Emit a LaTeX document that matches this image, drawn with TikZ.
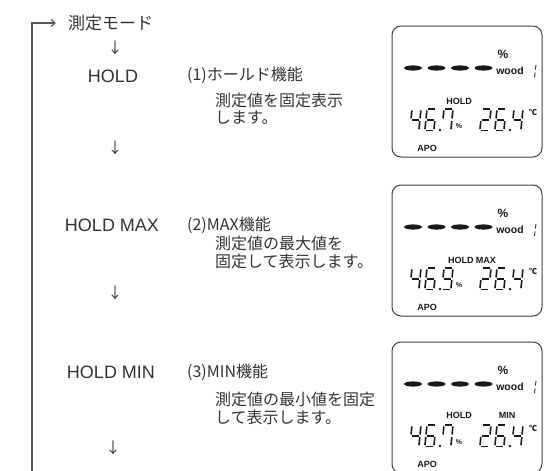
\documentclass[tikz,border=0pt]{standalone}
\usepackage{fontspec}
\setmainfont{Liberation Sans}
\newfontfamily\jp{Noto Sans CJK JP}
\usetikzlibrary{arrows.meta}

% segments of a 7-segment digit, cell 9 wide, 20 high
\def\lcda{\draw[lcdseg] (1.3,0)--(7.7,0);}
\def\lcdb{\draw[lcdseg] (9,1.3)--(9,8.8);}
\def\lcdc{\draw[lcdseg] (9,11.2)--(9,18.7);}
\def\lcdd{\draw[lcdseg] (1.3,20)--(7.7,20);}
\def\lcde{\draw[lcdseg] (0,11.2)--(0,18.7);}
\def\lcdf{\draw[lcdseg] (0,1.3)--(0,8.8);}
\def\lcdg{\draw[lcdseg] (1.3,10)--(7.7,10);}
\def\dtwo{a,b,g,e,d}
\def\dfour{f,g,b,c}
\def\dsix{a,f,g,e,d,c}
\def\dseven{f,a,b,c}
\def\dnine{a,b,c,d,f,g}

\newcommand\lcddig[2]{%
  \begin{scope}[shift={#1}, xslant=0.1, yscale=1.08]
    \foreach \s in #2 {\csname lcd\s\endcsname}
  \end{scope}}

% one display panel: #1 name, #2 top, #3 third digit, #4 status labels
\newcommand\lcdpanel[4]{%
  \begin{scope}[shift={(392,#2)}]
    \draw[panel] (0,0) rectangle (150,131);
    \foreach \i in {0,...,3}
      \fill[lcdink] (21+23.5*\i,42) ellipse (9 and 2.6);
    \node[lcdlab, font=\bfseries\fontsize{12}{12}\selectfont] (#1pct) at (111,28) {\%};
    \node[lcdlab, font=\bfseries\fontsize{10.5}{11}\selectfont] (#1wood) at (118,45) {wood};
    \draw[black!85, line width=0.9pt] (144,39)--(143.4,43.5) (143.1,46.5)--(142.5,51);
    \lcddig{(20,83)}{\dfour}
    \lcddig{(35,83)}{\dsix}
    \fill[lcdink] (48,104) circle (1.3);
    \lcddig{(52,83)}{#3}
    \node[lcdlab, font=\bfseries\fontsize{7}{7}\selectfont] (#1unit) at (67,100) {\%};
    \lcddig{(90,83)}{\dtwo}
    \lcddig{(105,83)}{\dsix}
    \fill[lcdink] (118,104) circle (1.3);
    \lcddig{(122,83)}{\dfour}
    \node[lcdlab, font=\jp\bfseries\fontsize{8}{8}\selectfont] (#1deg) at (141,86) {℃};
    \node[lcdlab] (#1apo) at (35,122) {APO};
    #4
  \end{scope}}

\tikzset{
  txt/.style={text=black!80, inner sep=1pt},
  modetxt/.style={txt, font=\fontsize{18}{20}\selectfont},
  jptxt/.style={txt, font=\jp\fontsize{16}{18}\selectfont, anchor=west},
  darr/.style={txt, font=\jp\fontsize{15}{17}\selectfont},
  panel/.style={draw=black!75, line width=1pt, rounded corners=9pt},
  lcdink/.style={black!90},
  lcdseg/.style={draw=black!90, line width=1.6pt},
  lcdlab/.style={text=black!90, inner sep=0pt, font=\bfseries\fontsize{9}{9}\selectfont},
  loopline/.style={draw=black!65, line width=1.2pt, -{Straight Barb[length=4pt,width=7pt]}},
}

\begin{document}
\begin{tikzpicture}[x=1pt, y=-1pt]
\clip (0,0) rectangle (544,471);

% mode loop
\node[jptxt, font=\jp\fontsize{17}{19}\selectfont] (mode) at (67,23) {測定モード};
\node[darr] (a0) at (115,48) {↓};
\coordinate (bot) at (32,475);
\draw[loopline] (bot) |- ([xshift=-11pt]mode.west);

% (1) hold
\node[modetxt] (hold) at (113,76) {HOLD};
\node[jptxt] (f1) at (186,75) {(1)ホールド機能};
\node[jptxt] (f1a) at (214,100) {測定値を固定表示};
\node[jptxt] (f1b) at (214,118) {します。};
\node[darr] (a1) at (115,148) {↓};

% (2) max
\node[modetxt] (hmax) at (112,225) {HOLD MAX};
\node[jptxt] (f2) at (186,225) {(2)MAX機能};
\node[jptxt] (f2a) at (214,243) {測定値の最大値を};
\node[jptxt] (f2b) at (214,261) {固定して表示します。};
\node[darr] (a2) at (115,293) {↓};

% (3) min
\node[modetxt] (hmin) at (111,372) {HOLD MIN};
\node[jptxt] (f3) at (186,372) {(3)MIN機能};
\node[jptxt] (f3a) at (214,399) {測定値の最小値を固定};
\node[jptxt] (f3b) at (214,417) {して表示します。};
\node[darr] (a3) at (113,448) {↓};

% displays
\lcdpanel{p1}{26}{\dseven}{\node[lcdlab] (p1hold) at (67,75) {HOLD};}
\lcdpanel{p2}{185}{\dnine}{\node[lcdlab] (p2hold) at (80,75) {HOLD MAX};}
\lcdpanel{p3}{342}{\dseven}{\node[lcdlab] (p3hold) at (67,73) {HOLD};
  \node[lcdlab] (p3min) at (115,73) {MIN};}
\end{tikzpicture}
\end{document}
